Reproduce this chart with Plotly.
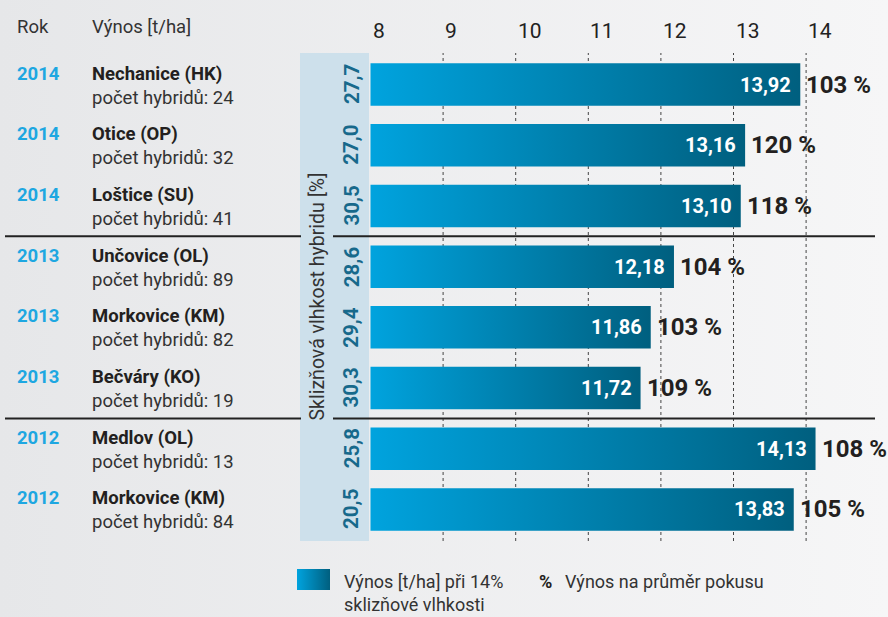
import base64
import plotly.graph_objects as go

# ---------------- data ----------------
years = [2014, 2014, 2014, 2013, 2013, 2013, 2012, 2012]
sites = ["Nechanice (HK)", "Otice (OP)", "Loštice (SU)", "Unčovice (OL)",
         "Morkovice (KM)", "Bečváry (KO)", "Medlov (OL)", "Morkovice (KM)"]
hybrids = [24, 32, 41, 89, 82, 19, 13, 84]
yields = [13.92, 13.16, 13.10, 12.18, 11.86, 11.72, 14.13, 13.83]
moisture = [27.7, 27.0, 30.5, 28.6, 29.4, 30.3, 25.8, 20.5]
pct = [103, 120, 118, 104, 103, 109, 108, 105]
xticks = [8, 9, 10, 11, 12, 13, 14]

# ---------------- styling ----------------
W, H = 888, 617
def px(x):
    return x / W
def py(y):
    return 1 - y / H

NUM = "Roboto, Noto Sans, sans-serif"
BODY = "Roboto, Noto Sans, sans-serif"
C_START, C_END = "#00a3de", "#005f7f"
BAND = "#cde0eb"
DARK = "#231f20"
YEAR = "#1ea7e1"
MOIST = "#17698b"
LS = 18.5  # left text size


def svg_uri(c0, c1):
    svg = ('<svg xmlns="http://www.w3.org/2000/svg" width="100" height="100" '
           'preserveAspectRatio="none"><defs><linearGradient id="g" x1="0" x2="1" '
           'y1="0" y2="0"><stop offset="0" stop-color="%s"/><stop offset="1" '
           'stop-color="%s"/></linearGradient></defs><rect width="100" height="100" '
           'fill="url(#g)"/></svg>') % (c0, c1)
    return "data:image/svg+xml;base64," + base64.b64encode(svg.encode()).decode()


fig = go.Figure()
half = 0.35
n = len(yields)
for i, v in enumerate(yields):
    fig.add_trace(go.Scatter(
        x=[xticks[0], v, v, xticks[0], xticks[0]],
        y=[i - half, i - half, i + half, i + half, i - half],
        mode="lines", fill="toself", line=dict(width=0),
        fillgradient=dict(type="horizontal",
                          colorscale=[[0, C_START], [1, C_END]]),
        hoverinfo="skip", showlegend=False))

shapes = []
# moisture band
shapes.append(dict(type="rect", xref="paper", yref="paper",
                   x0=px(300), x1=px(369), y0=py(541), y1=py(53),
                   fillcolor=BAND, line=dict(width=0), layer="below"))
# dotted grid lines
for t in xticks[1:]:
    shapes.append(dict(type="line", xref="x", yref="paper", x0=t, x1=t,
                       y0=py(541), y1=py(53),
                       line=dict(color="#444", width=1, dash="dot"), layer="below"))
# year separators
for i in range(1, n):
    if years[i] != years[i - 1]:
        shapes.append(dict(type="line", xref="paper", yref="y",
                           x0=px(5), x1=px(875), y0=i - 0.5, y1=i - 0.5,
                           line=dict(color="#222", width=2), layer="below"))

ann = []
# header
ann.append(dict(text="Rok", x=px(15), y=py(27), xref="paper", yref="paper",
                xanchor="left", yanchor="middle", showarrow=False,
                font=dict(family=BODY, size=LS, color="#333")))
ann.append(dict(text="Výnos [t/ha]", x=px(90), y=py(27), xref="paper", yref="paper",
                xanchor="left", yanchor="middle", showarrow=False,
                font=dict(family=BODY, size=LS, color="#333")))
# tick labels
for t in xticks:
    ann.append(dict(text=str(t), x=t, y=py(31), xref="x", yref="paper",
                    xanchor="left", yanchor="middle", showarrow=False,
                    font=dict(family=BODY, size=21, color="#222")))
for i in range(n):
    ann.append(dict(text="<b>%d</b>" % years[i], x=px(15), y=i, xref="paper", yref="y",
                    xanchor="left", yanchor="middle", yshift=11, showarrow=False,
                    font=dict(family=BODY, size=LS, color=YEAR)))
    ann.append(dict(text="<b>%s</b>" % sites[i], x=px(90), y=i, xref="paper", yref="y",
                    xanchor="left", yanchor="middle", yshift=11, showarrow=False,
                    font=dict(family=BODY, size=LS, color=DARK)))
    ann.append(dict(text="počet hybridů: %d" % hybrids[i], x=px(90), y=i,
                    xref="paper", yref="y", xanchor="left", yanchor="middle",
                    yshift=-13, showarrow=False,
                    font=dict(family=BODY, size=LS, color="#333")))
    ann.append(dict(text="<b>%s</b>" % ("%.1f" % moisture[i]).replace(".", ","),
                    x=px(351.5), y=i, xref="paper", yref="y", textangle=-90,
                    xanchor="center", yanchor="middle", showarrow=False,
                    font=dict(family=NUM, size=20.5, color=MOIST)))
    ann.append(dict(text="<b>%s</b>" % ("%.2f" % yields[i]).replace(".", ","),
                    x=yields[i], y=i, xref="x", yref="y", xanchor="right",
                    yanchor="middle", xshift=-7, showarrow=False,
                    font=dict(family=NUM, size=20, color="white")))
    ann.append(dict(text="<b>%d %%</b>" % pct[i], x=yields[i], y=i, xref="x", yref="y",
                    xanchor="left", yanchor="middle", xshift=4, showarrow=False,
                    font=dict(family=NUM, size=24, color=DARK)))
# rotated band title
ann.append(dict(text="Sklizňová vlhkost hybridu [%]", x=px(316.5), y=py(297),
                xref="paper", yref="paper", textangle=-90, xanchor="center",
                yanchor="middle", showarrow=False, bgcolor=BAND, borderpad=4,
                font=dict(family=BODY, size=19.5, color="#333")))
# legend texts
ann.append(dict(text="Výnos [t/ha] při 14%<br>sklizňové vlhkosti", x=px(342),
                y=py(569), xref="paper", yref="paper", xanchor="left", yanchor="top",
                align="left", showarrow=False,
                font=dict(family=BODY, size=18, color="#333")))
ann.append(dict(text="<b>%</b>", x=px(537), y=py(581), xref="paper", yref="paper",
                xanchor="left", yanchor="middle", showarrow=False,
                font=dict(family=BODY, size=18, color=DARK)))
ann.append(dict(text="Výnos na průměr pokusu", x=px(563), y=py(581), xref="paper",
                yref="paper", xanchor="left", yanchor="middle", showarrow=False,
                font=dict(family=BODY, size=18, color="#333")))

images = [
    dict(source=svg_uri("#e6e7e9", "#f6f6f7"), xref="paper", yref="paper",
         x=0, y=1, sizex=1, sizey=1, xanchor="left", yanchor="top",
         sizing="stretch", layer="below"),
    dict(source=svg_uri(C_START, C_END), xref="paper", yref="paper",
         x=px(297), y=py(569), sizex=px(33), sizey=21 / H, xanchor="left",
         yanchor="top", sizing="stretch", layer="above"),
]

scale = 72.6
x0pix = 370.5
fig.update_layout(
    width=W, height=H,
    margin=dict(l=0, r=0, t=0, b=0),
    paper_bgcolor="#eeeff0", plot_bgcolor="rgba(0,0,0,0)",
    xaxis=dict(range=[8 - x0pix / scale, 8 + (W - x0pix) / scale], domain=[0, 1],
               visible=False, fixedrange=True),
    yaxis=dict(range=[n - 0.48, -0.52], domain=[py(541), py(53)],
               visible=False, fixedrange=True),
    shapes=shapes, annotations=ann, images=images,
    showlegend=False,
)
fig.write_html(
    "out.html",
    config={"displayModeBar": False},
    post_script="document.body.style.margin='0';"
                "document.documentElement.style.overflow='hidden';",
)
